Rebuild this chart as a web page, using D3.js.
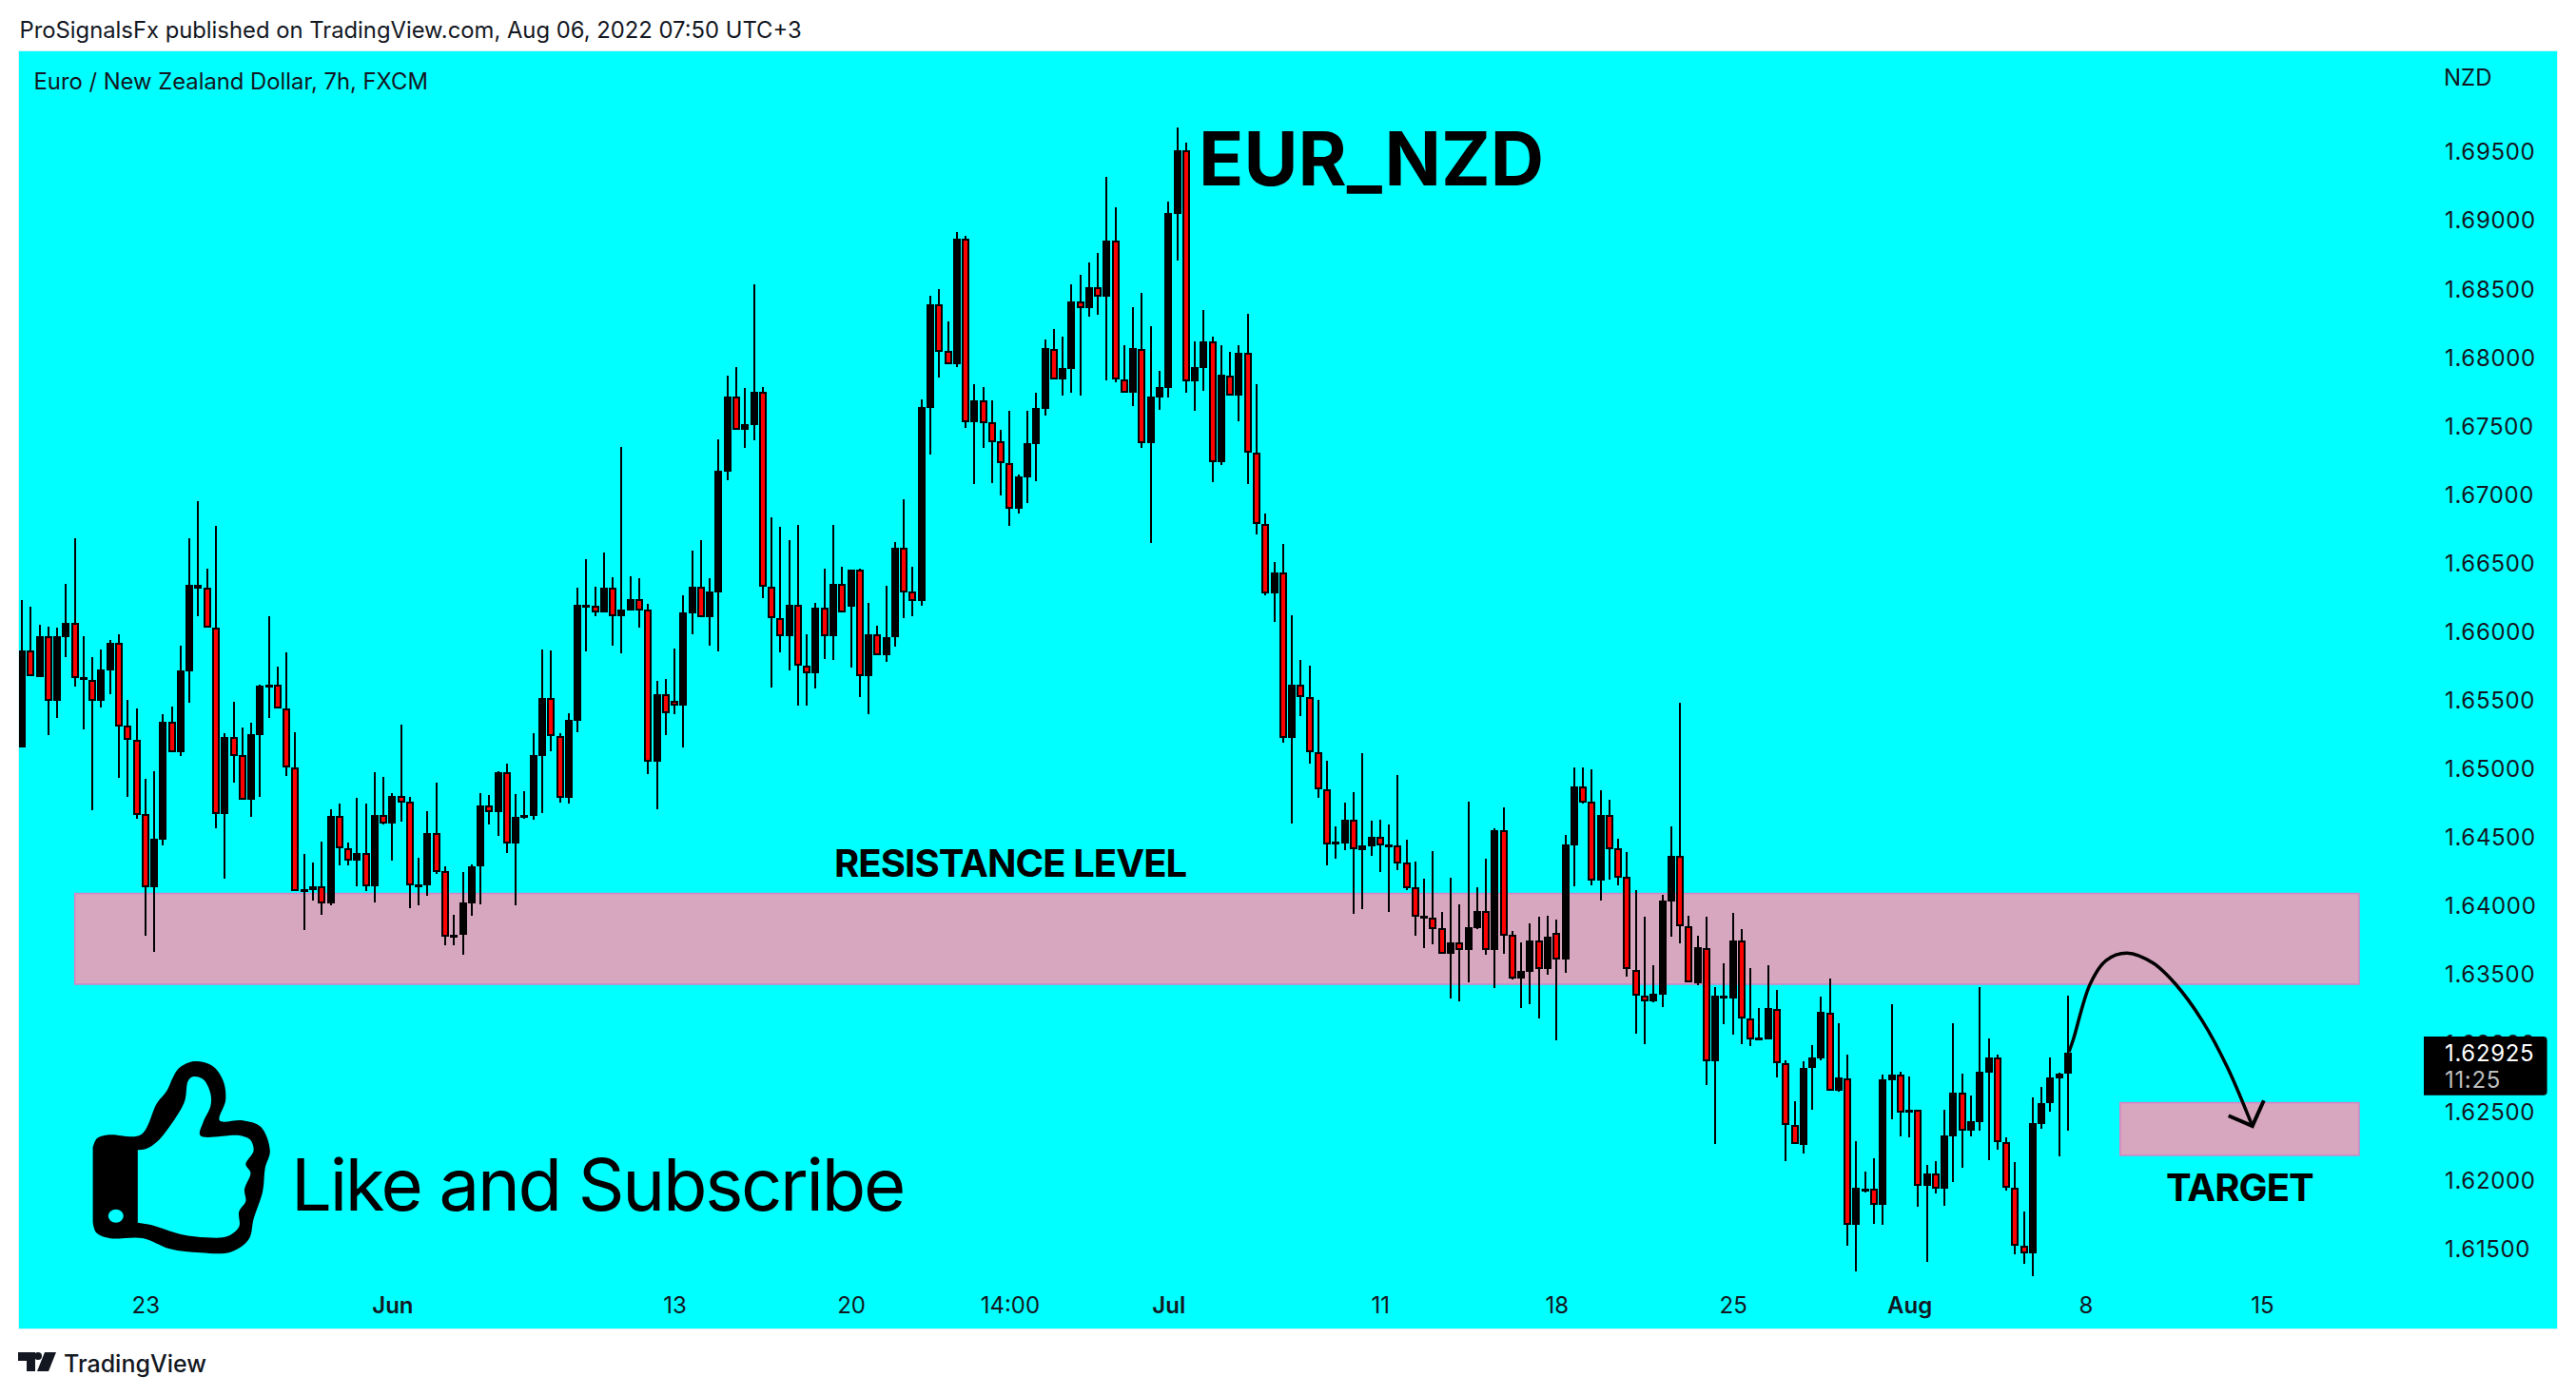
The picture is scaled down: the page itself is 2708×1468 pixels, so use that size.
<!DOCTYPE html>
<html><head><meta charset="utf-8">
<script src="https://cdn.jsdelivr.net/npm/d3@7/dist/d3.min.js"></script>
<style>html,body{margin:0;padding:0;background:#fff;overflow:hidden}svg{display:block}text{font-family:Inter,"Noto Sans",sans-serif}</style>
</head><body><div id="c"></div>
<script>
const highs=[1.66229,1.66179,1.66045,1.66033,1.66026,1.66344,1.66678,1.65964,1.65811,1.65868,
1.65938,1.65978,1.65501,1.65439,1.64925,1.64980,1.65396,1.65451,1.65895,1.66678,
1.66950,1.66456,1.66769,1.65257,1.65486,1.65298,1.65334,1.65611,1.66110,1.65742,
1.65847,1.65264,1.64376,1.64314,1.64467,1.64703,1.64744,1.64460,1.64787,1.64744,
1.64973,1.64937,1.64820,1.65319,1.64791,1.64350,1.64689,1.64897,1.64288,1.63932,
1.64245,1.64300,1.64820,1.64806,1.64980,1.65035,1.64813,1.64834,1.65257,1.65868,
1.65861,1.65257,1.65402,1.66319,1.66527,1.66324,1.66575,1.66393,1.67344,1.66401,
1.66389,1.66200,1.65639,1.65653,1.65875,1.66262,1.66589,1.66666,1.66389,1.67401,
1.67864,1.67926,1.67774,1.68531,1.67781,1.66830,1.66761,1.66666,1.66775,1.65978,
1.66207,1.66458,1.66775,1.66470,1.66451,1.66458,1.66207,1.66040,1.66331,1.66651,
1.66964,1.66470,1.67690,1.68447,1.68495,1.68261,1.68911,1.68883,1.67801,1.67780,
1.67683,1.67468,1.67607,1.67142,1.67607,1.67739,1.68127,1.68203,1.68148,1.68529,
1.68599,1.68689,1.68758,1.69313,1.69091,1.68086,1.68363,1.68467,1.68224,1.67898,
1.69133,1.69674,1.69563,1.68113,1.68342,1.68148,1.68086,1.68037,1.68086,1.68314,
1.67801,1.66858,1.66505,1.66637,1.66117,1.65791,1.65749,1.65499,1.65055,1.64577,
1.64750,1.64826,1.65111,1.64618,1.64625,1.64591,1.64951,1.64480,1.64320,1.64195,
1.64396,1.63953,1.64202,1.64008,1.64757,1.64133,1.64341,1.64563,1.64715,1.63814,
1.63731,1.63869,1.63918,1.63925,1.63897,1.64514,1.65007,1.65007,1.64993,1.64840,
1.64771,1.64487,1.64390,1.64115,1.63917,1.63563,1.64081,1.64577,1.65477,1.63928,
1.63778,1.63917,1.63407,1.63577,1.63945,1.63826,1.63543,1.63252,1.63563,1.63385,
1.62870,1.62572,1.62864,1.62980,1.63334,1.63467,1.63141,1.62912,1.62281,1.62060,
1.62156,1.62770,1.63280,1.62788,1.62754,1.62513,1.62108,1.62136,1.62510,1.63141,
1.62773,1.62615,1.63405,1.63031,1.62912,1.62309,1.62128,1.61768,1.62601,1.62677,1.62892,1.62779,1.63342];
const lows=[1.65154,1.65670,1.65668,1.65245,1.65365,1.65814,1.65599,1.65288,1.64696,1.65443,
1.65544,1.64928,1.64789,1.64636,1.63777,1.63664,1.64440,1.65121,1.65092,1.65482,
1.66112,1.66024,1.64560,1.64199,1.64899,1.64768,1.64648,1.64794,1.65365,1.65434,
1.64947,1.64109,1.63824,1.64039,1.63929,1.63999,1.64290,1.64295,1.64137,1.64109,
1.64025,1.64591,1.64331,1.64615,1.63984,1.64003,1.64073,1.64233,1.63712,1.63712,
1.63643,1.63922,1.64011,1.64591,1.64510,1.64385,1.64004,1.64635,1.64628,1.64677,
1.65128,1.64753,1.64744,1.65266,1.65856,1.66107,1.66140,1.65892,1.65842,1.66155,
1.66030,1.64961,1.64702,1.65245,1.65398,1.65156,1.65980,1.66100,1.65892,1.65856,
1.67103,1.67468,1.67337,1.67396,1.66245,1.65593,1.65849,1.65718,1.65455,1.65457,
1.65586,1.65801,1.65794,1.66140,1.65737,1.65517,1.65398,1.65827,1.65780,1.65885,
1.66093,1.66112,1.66188,1.67289,1.67850,1.67950,1.67928,1.67482,1.67073,1.67339,
1.67082,1.66992,1.66770,1.66860,1.66937,1.67096,1.67575,1.67838,1.67718,1.67739,
1.67718,1.68294,1.68308,1.67829,1.67815,1.67741,1.67642,1.67339,1.66645,1.67614,
1.67704,1.68703,1.67739,1.67607,1.67753,1.67087,1.67212,1.67720,1.67531,1.67073,
1.66705,1.66265,1.66070,1.65189,1.64600,1.65384,1.65037,1.64787,1.64295,1.64343,
1.64406,1.63941,1.63976,1.64364,1.64246,1.63955,1.64260,1.64114,1.63781,1.63691,
1.63719,1.63650,1.63324,1.63303,1.63442,1.63830,1.63643,1.63400,1.63650,1.63460,
1.63254,1.63282,1.63178,1.63497,1.63017,1.63509,1.64142,1.64743,1.64149,1.64038,
1.64191,1.64149,1.63483,1.63068,1.62991,1.63297,1.63260,1.63776,1.63727,1.63439,
1.63422,1.62694,1.62264,1.63133,1.63059,1.62991,1.62977,1.63017,1.63025,1.62748,
1.62139,1.62258,1.62193,1.62513,1.62872,1.62652,1.62643,1.61522,1.61332,1.61910,
1.61681,1.61672,1.62442,1.62318,1.62312,1.61805,1.61403,1.61901,1.61811,1.61986,
1.62085,1.62318,1.62360,1.62145,1.62216,1.61924,1.61457,1.61389,1.61298,1.62374,1.62499,1.62173,1.62360];
const opens=[1.65154,1.65857,1.65668,1.65962,1.65496,1.65959,1.66060,1.65642,1.65644,1.65496,
1.65718,1.65914,1.65310,1.65207,1.64665,1.64130,1.64483,1.65338,1.65121,1.65711,
1.66313,1.66315,1.66024,1.64670,1.65226,1.65095,1.64768,1.65245,1.65596,1.65608,
1.65436,1.65004,1.64109,1.64116,1.64140,1.64018,1.64651,1.64417,1.64331,1.64381,
1.64137,1.64658,1.64600,1.64796,1.64756,1.64144,1.64149,1.64526,1.64249,1.63769,
1.63784,1.64018,1.64283,1.64727,1.64684,1.64973,1.64455,1.64640,1.64656,1.65093,
1.65515,1.65235,1.64785,1.65350,1.66178,1.66183,1.66140,1.66317,1.66107,1.66155,
1.66233,1.66157,1.65051,1.65541,1.65491,1.65455,1.66133,1.66324,1.66100,1.66286,
1.67167,1.67712,1.67466,1.67504,1.67747,1.66322,1.66095,1.65964,1.66193,1.65746,
1.65696,1.66174,1.65966,1.66346,1.66178,1.66451,1.65670,1.65978,1.65827,1.65954,
1.66611,1.66291,1.66224,1.67630,1.68385,1.68044,1.67947,1.68862,1.67526,1.67683,
1.67526,1.67383,1.67230,1.66893,1.67124,1.67364,1.67621,1.68062,1.67836,1.67912,
1.68405,1.68356,1.68509,1.68439,1.68846,1.67840,1.67739,1.68062,1.67373,1.67704,
1.67773,1.69043,1.69505,1.67822,1.67919,1.68111,1.67235,1.67868,1.67718,1.68028,
1.67304,1.66784,1.66278,1.66426,1.65224,1.65608,1.65518,1.65115,1.64845,1.64445,
1.64454,1.64623,1.64403,1.64431,1.64498,1.64431,1.64436,1.64311,1.64131,1.63906,
1.63909,1.63832,1.63650,1.63728,1.63677,1.63835,1.63957,1.63677,1.64547,1.63784,
1.63467,1.63518,1.63742,1.63536,1.63798,1.63608,1.64438,1.64866,1.64755,1.64184,
1.64658,1.64415,1.64207,1.63532,1.63345,1.63303,1.63351,1.64030,1.64359,1.63852,
1.63436,1.63691,1.62861,1.63325,1.63325,1.63742,1.63173,1.63020,1.63025,1.63249,
1.62847,1.62397,1.62255,1.62819,1.62884,1.63221,1.62649,1.62742,1.61669,1.61930,
1.61932,1.61819,1.62728,1.62765,1.62493,1.62513,1.61958,1.62043,1.61938,1.62318,
1.62632,1.62360,1.62419,1.62782,1.62889,1.62278,1.61944,1.61522,1.61465,1.62408,1.62561,1.62742,1.62776];
const closes=[1.65861,1.65670,1.65964,1.65496,1.65964,1.66062,1.65661,1.65663,1.65496,1.65723,
1.65916,1.65307,1.65205,1.64663,1.64130,1.64488,1.65341,1.65121,1.65716,1.66339,
1.66339,1.66024,1.64670,1.65228,1.65092,1.64768,1.65250,1.65603,1.65611,1.65434,
1.65004,1.64109,1.64120,1.64142,1.64018,1.64653,1.64417,1.64331,1.64381,1.64137,
1.64660,1.64600,1.64799,1.64753,1.64144,1.64156,1.64529,1.64247,1.63772,1.63786,
1.64023,1.64288,1.64729,1.64684,1.64973,1.64455,1.64647,1.64658,1.65098,1.65515,
1.65233,1.64788,1.65355,1.66193,1.66193,1.66140,1.66319,1.66107,1.66159,1.66236,
1.66155,1.65051,1.65541,1.65405,1.65455,1.66138,1.66324,1.66100,1.66291,1.67172,
1.67712,1.67468,1.67511,1.67747,1.66322,1.66093,1.65966,1.66193,1.65746,1.65696,
1.66174,1.65966,1.66346,1.66140,1.66451,1.65670,1.65978,1.65827,1.65959,1.66611,
1.66286,1.66224,1.67635,1.68385,1.68041,1.67950,1.68862,1.67526,1.67683,1.67519,
1.67380,1.67228,1.66895,1.67128,1.67371,1.67628,1.68065,1.67838,1.67919,1.68405,
1.68358,1.68509,1.68442,1.68849,1.67838,1.67741,1.68065,1.67373,1.67711,1.67780,
1.69050,1.69507,1.67824,1.67926,1.68113,1.67235,1.67871,1.67720,1.68030,1.67304,
1.66784,1.66278,1.66429,1.65224,1.65610,1.65518,1.65115,1.64845,1.64447,1.64463,
1.64625,1.64408,1.64438,1.64500,1.64440,1.64447,1.64309,1.64128,1.63920,1.63925,
1.63830,1.63650,1.63731,1.63677,1.63842,1.63960,1.63677,1.64549,1.63781,1.63467,
1.63520,1.63744,1.63539,1.63772,1.63608,1.64445,1.64868,1.64750,1.64184,1.64660,
1.64413,1.64205,1.63534,1.63345,1.63303,1.63354,1.64033,1.64359,1.63852,1.63439,
1.63693,1.62861,1.63340,1.63345,1.63744,1.63175,1.63025,1.63037,1.63252,1.62847,
1.62397,1.62258,1.62819,1.62892,1.63223,1.62652,1.62745,1.61669,1.61941,1.61938,
1.61819,1.62731,1.62768,1.62493,1.62513,1.61958,1.62046,1.61938,1.62323,1.62635,
1.62360,1.62425,1.62788,1.62892,1.62278,1.61941,1.61522,1.61465,1.62411,1.62561,1.62745,1.62776,1.62926];

const priceTicks=[1.615,1.62,1.625,1.63,1.635,1.64,1.645,1.65,1.655,1.66,1.665,1.67,1.675,1.68,1.685,1.69,1.695];
const timeTickBars=[14,42,74,94,112,130,154,174,194,214,234,254];
const timeTickLabels=["23","Jun","13","20","14:00","Jul","11","18","25","Aug","8","15"];
const boldTimeTicks=["Jun","Jul","Aug"];
const lastPrice="1.62925", countdown="11:25";
const resistanceZone={bars:[6,265],prices:[1.64088,1.63426]};
const targetZone={bars:[237.9,265],prices:[1.62562,1.62178]};
const arrowBars=[232.1,232.6,234.5,236.3,238.7,241.7,244.2,247.2,250.1,252.9];
const arrowPrices=[1.62933,1.63024,1.63426,1.63599,1.63653,1.63578,1.63426,1.63162,1.62816,1.62392];
const arrowHeadBars=[250.2,252.9,254.2];
const arrowHeadPrices=[1.62467,1.62392,1.62578];

const W=2708,H=1468;
const panel={l:20,t:54,r:2688,b:1397};
const x=d3.scaleLinear().domain([0,232]).range([23,2174]);
const y=d3.scaleLinear().domain([1.615,1.695]).range([1312.7,159.2]);
const ink="#131722";
const svg=d3.select("#c").append("svg").attr("width",W).attr("height",H);
svg.append("rect").attr("x",panel.l-.5).attr("y",panel.t-.5).attr("width",panel.r-panel.l+1).attr("height",panel.b-panel.t+1)
  .attr("fill","#00ffff").attr("stroke","#d5f3f5").attr("stroke-width",1);
svg.append("defs").append("clipPath").attr("id","pc").append("rect")
  .attr("x",panel.l).attr("y",panel.t).attr("width",panel.r-panel.l).attr("height",panel.b-panel.t);

function label(t,px,py,size,weight,color,spacing){
  return svg.append("text").attr("x",px).attr("y",py).attr("font-size",size).attr("font-weight",weight)
    .attr("fill",color||"#000").attr("letter-spacing",spacing||0).text(t);
}
// header & footer
label("ProSignalsFx published on TradingView.com, Aug 06, 2022 07:50 UTC+3",20.5,40,23.8,400,ink);
label("Euro / New Zealand Dollar, 7h, FXCM",35.5,94,23.8,400,ink);
label("NZD",2569,89.5,24,400,ink);

// zones
for(const z of [resistanceZone,targetZone]){
  svg.append("rect").attr("x",x(z.bars[0])).attr("y",y(z.prices[0]))
    .attr("width",x(z.bars[1])-x(z.bars[0])).attr("height",y(z.prices[1])-y(z.prices[0]))
    .attr("fill","#d7a6bf").attr("stroke","#d384c4").attr("stroke-width",1.5);
}

// candles
const bars=d3.range(highs.length);
const g=svg.append("g").attr("clip-path","url(#pc)");
const cx=i=>Math.round(x(i));
g.selectAll("rect.w").data(bars).join("rect").attr("class","w")
  .attr("x",i=>cx(i)-1).attr("width",2)
  .attr("y",i=>Math.round(y(highs[i]))).attr("height",i=>Math.max(1,Math.round(y(lows[i]))-Math.round(y(highs[i]))))
  .attr("fill","#000");
const bodyTop=i=>Math.round(y(Math.max(opens[i],closes[i])));
const bodyBot=i=>Math.round(y(Math.min(opens[i],closes[i])));
g.selectAll("rect.b").data(bars).join("rect").attr("class","b")
  .attr("x",i=>cx(i)-4).attr("width",8)
  .attr("y",bodyTop).attr("height",i=>Math.max(3,bodyBot(i)-bodyTop(i)))
  .attr("fill","#000");
g.selectAll("rect.r").data(bars.filter(i=>closes[i]<opens[i])).join("rect").attr("class","r")
  .attr("x",i=>cx(i)-2).attr("width",4)
  .attr("y",i=>bodyTop(i)+2).attr("height",i=>Math.max(1,bodyBot(i)-bodyTop(i)-4))
  .attr("fill","#ff0000");

// axes
const yAxis=d3.axisRight(y).tickValues(priceTicks).tickSize(0).tickPadding(0).tickFormat(d3.format(".5f"));
const ya=svg.append("g").attr("transform","translate(2570,0)").call(yAxis);
ya.select(".domain").remove();
ya.selectAll("text").attr("font-size",24).attr("fill",ink).attr("font-family",'Inter,"Noto Sans",sans-serif')
  .attr("dy","0.36em").attr("x",0).attr("letter-spacing",0.65);
const xAxis=d3.axisBottom(x).tickValues(timeTickBars).tickSize(0).tickPadding(0).tickFormat((d,i)=>timeTickLabels[i]);
const xa=svg.append("g").attr("transform","translate(0,1372)").call(xAxis);
xa.select(".domain").remove();
xa.selectAll("text").attr("font-size",24).attr("fill",ink).attr("font-family",'Inter,"Noto Sans",sans-serif').attr("y",0).attr("dy","0.36em")
  .attr("font-weight",(d,i)=>boldTimeTicks.includes(timeTickLabels[i])?600:400);

// last price tag
svg.append("path").attr("fill","#000")
  .attr("d","M2548 1090H2673.6Q2677.6 1090 2677.6 1094V1147.7Q2677.6 1151.7 2673.6 1151.7H2548Z");
label(lastPrice,2570,1115.5,24,400,"#fff",0.65);
label(countdown,2570,1143.5,24,400,"#bdbdbd",0.65);

// annotations
label("EUR_NZD",1260,195,78,700,"#000");
label("RESISTANCE LEVEL",877,922,40,700,"#000",-0.9);
label("TARGET",2277,1263,40,700,"#000",-0.9);
label("Like and Subscribe",306,1273,76,400,"#000",-2.3);

const line=d3.line().curve(d3.curveCatmullRom.alpha(.5));
svg.append("path").attr("d",line(arrowBars.map((b,i)=>[x(b),y(arrowPrices[i])])))
  .attr("fill","none").attr("stroke","#000").attr("stroke-width",3.5);
svg.append("path").attr("d",d3.line()(arrowHeadBars.map((b,i)=>[x(b),y(arrowHeadPrices[i])])))
  .attr("fill","none").attr("stroke","#000").attr("stroke-width",4);

// thumb icon
const thumbOuter=[[97.6,1206.7],[102,1197],[114.8,1193.3],[148,1193.3],[165,1160],[175.4,1147],[181.8,1133],[188.1,1123.3],[204,1116],[223.2,1120.7],[234.7,1136.7],[237.2,1156.7],[230.9,1178.3],[255.1,1178.3],[274.2,1185],[283.8,1210],[278.7,1228.3],[276.1,1253.3],[266.6,1281.7],[261.5,1303.3],[242.3,1316.7],[210.5,1317.3],[178.6,1313.3],[149.9,1302],[114.8,1302],[101,1296],[97.6,1285]];
const thumbInner=[[144.8,1209.3],[153,1208.3],[165.8,1200],[188.1,1170],[194.5,1156.7],[197.7,1136.7],[202.8,1132.3],[213.6,1135],[221.3,1150],[221.3,1163.3],[213.6,1180],[210.5,1194],[251.9,1194],[262.8,1198.3],[266.6,1210],[258.3,1224.3],[263.4,1233.3],[257,1250.7],[258.3,1263.3],[251.3,1274],[251.3,1290],[239.2,1300],[216.8,1301.3],[191.3,1298.3],[159.4,1288.3],[144.8,1285.7]];
svg.append("path").attr("fill-rule","evenodd").attr("fill","#000")
  .attr("d",line(thumbOuter)+"Z"+line(thumbInner)+"Z");
svg.append("ellipse").attr("cx",121.8).attr("cy",1278.7).attr("rx",8).attr("ry",7).attr("fill","#00ffff");

// TradingView logo
svg.append("path").attr("fill","#131722")
  .attr("d","M19 1422H37V1442H28V1431H19ZM40 1422A4 4 0 1 1 40 1430A4 4 0 1 1 40 1422ZM47 1422H59L51 1442H39Z");
label("TradingView",67,1443,25,500,ink);
</script></body></html>
